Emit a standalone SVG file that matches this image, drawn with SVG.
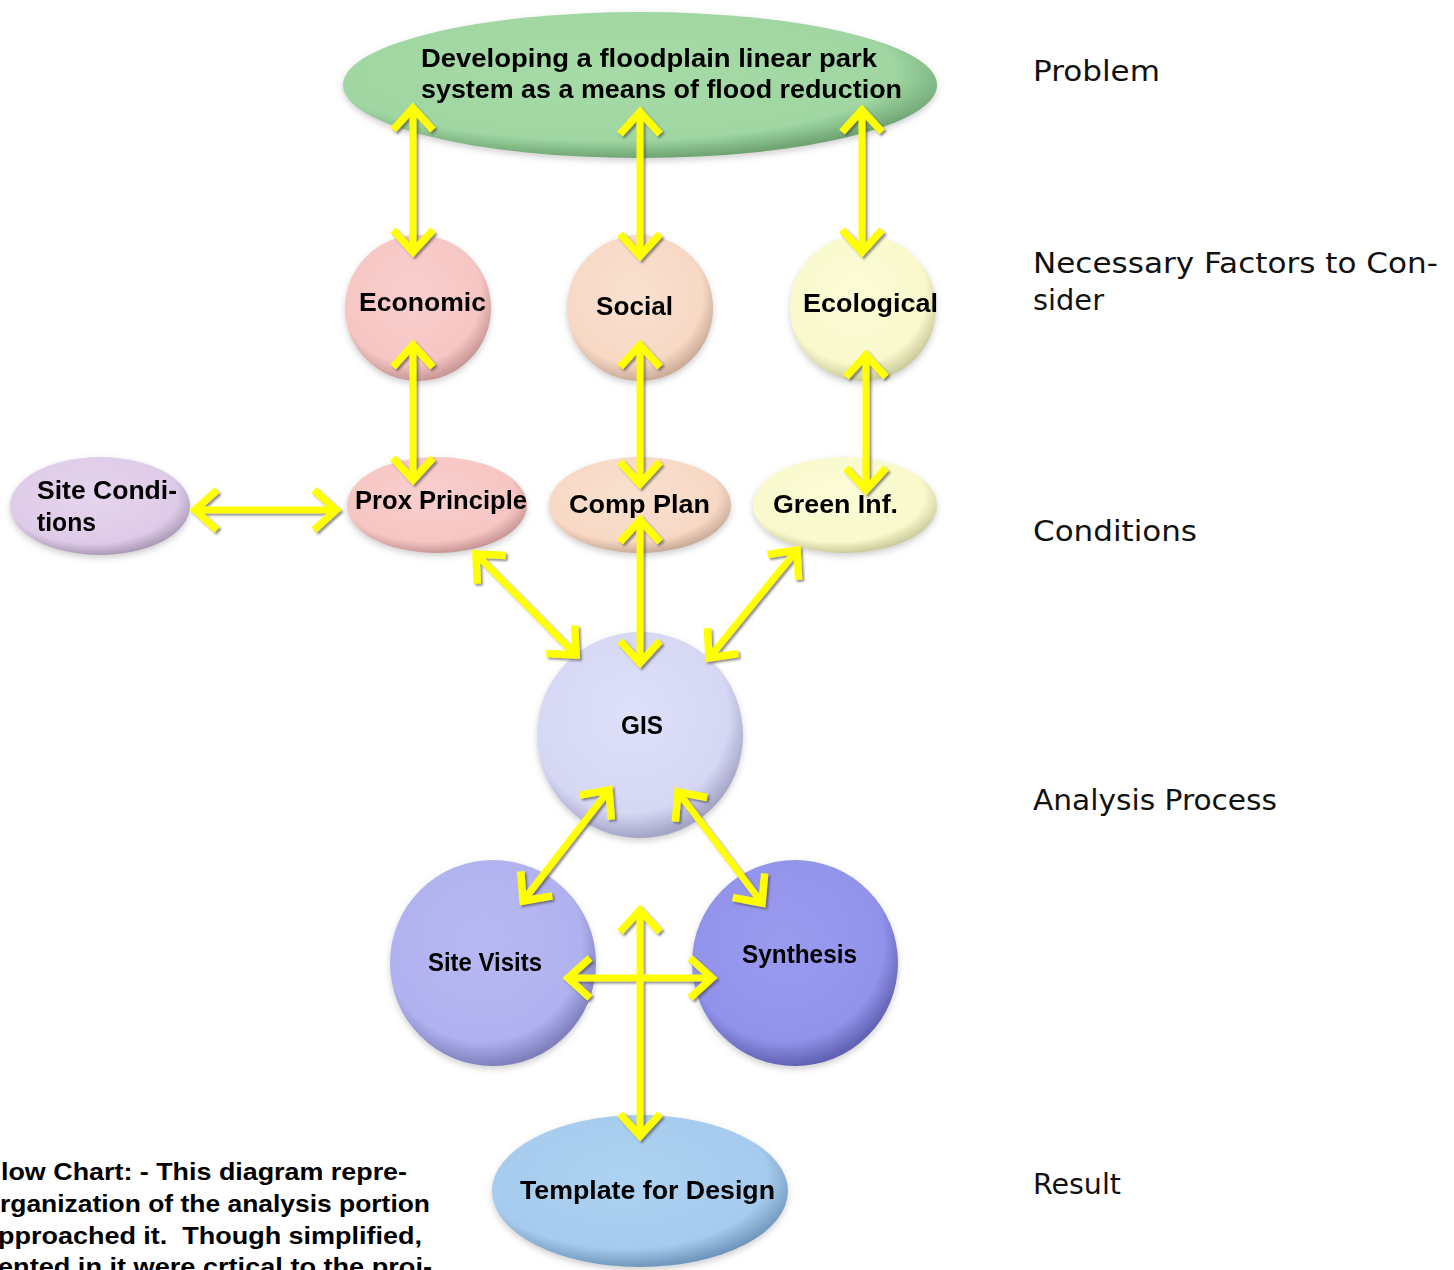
<svg xmlns="http://www.w3.org/2000/svg" width="1454" height="1270" viewBox="0 0 1454 1270">
<style>
.lbl{font-family:"Liberation Sans",Arial,sans-serif;font-weight:bold;font-size:25px;fill:#000}
.side{font-family:"DejaVu Sans","Liberation Sans",sans-serif;font-size:29px;fill:#111}
.cap{font-family:"Liberation Sans",Arial,sans-serif;font-weight:bold;font-size:24px;fill:#000;white-space:pre}
.arr{fill:none;stroke:#ffff00;stroke-width:7}
</style>
<defs>
<filter id="ash" x="-20%" y="-20%" width="140%" height="140%">
<feDropShadow dx="2" dy="2" stdDeviation="1.2" flood-color="#444" flood-opacity="0.6"/>
</filter>
<filter id="nsh" x="-10%" y="-10%" width="120%" height="125%">
<feDropShadow dx="0" dy="3" stdDeviation="3" flood-color="#888" flood-opacity="0.4"/>
</filter>
<marker id="hd" markerUnits="userSpaceOnUse" viewBox="-30 -30 40 60" markerWidth="40" markerHeight="60" refX="0" refY="0" orient="auto-start-reverse" overflow="visible">
<path d="M-22,-20 L0,0 L-22,20" fill="none" stroke="#ffff00" stroke-width="7.5" stroke-linejoin="miter"/>
</marker>
<radialGradient id="gGreen" cx="45%" cy="40%" r="60%"><stop offset="0" stop-color="#a6dba8"/><stop offset="0.8" stop-color="#a0d6a2"/><stop offset="1" stop-color="#6fa572"/></radialGradient>
<radialGradient id="gPink" cx="45%" cy="40%" r="60%"><stop offset="0" stop-color="#f9cfcd"/><stop offset="0.8" stop-color="#f6c6c4"/><stop offset="1" stop-color="#c99896"/></radialGradient>
<radialGradient id="gPeach" cx="45%" cy="40%" r="60%"><stop offset="0" stop-color="#fae1d0"/><stop offset="0.8" stop-color="#f7d8c4"/><stop offset="1" stop-color="#cbac98"/></radialGradient>
<radialGradient id="gYel" cx="45%" cy="40%" r="60%"><stop offset="0" stop-color="#fcfcd8"/><stop offset="0.8" stop-color="#f9f9cc"/><stop offset="1" stop-color="#cccc9e"/></radialGradient>
<radialGradient id="gLav" cx="45%" cy="40%" r="60%"><stop offset="0" stop-color="#e6d5ee"/><stop offset="0.8" stop-color="#decbe8"/><stop offset="1" stop-color="#ad9bb8"/></radialGradient>
<radialGradient id="gGis" cx="45%" cy="40%" r="60%"><stop offset="0" stop-color="#dedff8"/><stop offset="0.8" stop-color="#d6d7f4"/><stop offset="1" stop-color="#a4a5c6"/></radialGradient>
<radialGradient id="gSv" cx="45%" cy="40%" r="60%"><stop offset="0" stop-color="#b8b9f3"/><stop offset="0.8" stop-color="#b0b1ef"/><stop offset="1" stop-color="#7e7fbd"/></radialGradient>
<radialGradient id="gSyn" cx="45%" cy="40%" r="60%"><stop offset="0" stop-color="#9a9bef"/><stop offset="0.8" stop-color="#9192ea"/><stop offset="1" stop-color="#6162b4"/></radialGradient>
<radialGradient id="gBlue" cx="45%" cy="40%" r="60%"><stop offset="0" stop-color="#aed2f1"/><stop offset="0.8" stop-color="#a6cbee"/><stop offset="1" stop-color="#7097bd"/></radialGradient>
</defs>
<rect width="1454" height="1270" fill="#ffffff"/>

<g id="node-problem" filter="url(#nsh)"><ellipse cx="640" cy="85" rx="297" ry="73" fill="url(#gGreen)"/>
<text class="lbl" x="421" y="67" font-size="26" textLength="456" lengthAdjust="spacingAndGlyphs">Developing a floodplain linear park</text>
<text class="lbl" x="421" y="98" font-size="26" textLength="481" lengthAdjust="spacingAndGlyphs">system as a means of flood reduction</text></g>

<g id="node-economic" filter="url(#nsh)"><circle cx="418" cy="308" r="73" fill="url(#gPink)"/>
<text class="lbl" x="359" y="311" textLength="127" lengthAdjust="spacingAndGlyphs">Economic</text></g>
<g id="node-social" filter="url(#nsh)"><circle cx="640" cy="308" r="73" fill="url(#gPeach)"/>
<text class="lbl" x="596" y="315" textLength="77" lengthAdjust="spacingAndGlyphs">Social</text></g>
<g id="node-ecological" filter="url(#nsh)"><circle cx="863" cy="308" r="73" fill="url(#gYel)"/>
<text class="lbl" x="803" y="312" textLength="135" lengthAdjust="spacingAndGlyphs">Ecological</text></g>

<g id="node-site-conditions" filter="url(#nsh)"><ellipse cx="100" cy="506" rx="90" ry="49" fill="url(#gLav)"/>
<text class="lbl" x="37" y="499" textLength="140" lengthAdjust="spacingAndGlyphs">Site Condi-</text>
<text class="lbl" x="37" y="531" textLength="59" lengthAdjust="spacingAndGlyphs">tions</text></g>
<g id="node-prox" filter="url(#nsh)"><ellipse cx="437" cy="505" rx="90" ry="48" fill="url(#gPink)"/>
<text class="lbl" x="355" y="509" textLength="172" lengthAdjust="spacingAndGlyphs">Prox Principle</text></g>
<g id="node-comp" filter="url(#nsh)"><ellipse cx="640" cy="505" rx="91" ry="48" fill="url(#gPeach)"/>
<text class="lbl" x="569" y="513" textLength="141" lengthAdjust="spacingAndGlyphs">Comp Plan</text></g>
<g id="node-green" filter="url(#nsh)"><ellipse cx="845" cy="505" rx="92" ry="48" fill="url(#gYel)"/>
<text class="lbl" x="773" y="513" textLength="125" lengthAdjust="spacingAndGlyphs">Green Inf.</text></g>

<g id="node-gis" filter="url(#nsh)"><circle cx="640" cy="735" r="103" fill="url(#gGis)"/>
<text class="lbl" x="621" y="734" textLength="42" lengthAdjust="spacingAndGlyphs">GIS</text></g>
<g id="node-site-visits" filter="url(#nsh)"><circle cx="493" cy="963" r="103" fill="url(#gSv)"/>
<text class="lbl" x="428" y="971" textLength="114" lengthAdjust="spacingAndGlyphs">Site Visits</text></g>
<g id="node-synthesis" filter="url(#nsh)"><circle cx="795" cy="963" r="103" fill="url(#gSyn)"/>
<text class="lbl" x="742" y="963" textLength="115" lengthAdjust="spacingAndGlyphs">Synthesis</text></g>
<g id="node-template" filter="url(#nsh)"><ellipse cx="640" cy="1191" rx="148" ry="76" fill="url(#gBlue)"/>
<text class="lbl" x="520" y="1199" textLength="255" lengthAdjust="spacingAndGlyphs">Template for Design</text></g>

<g id="connectors" filter="url(#ash)">
<path class="arr" d="M413,108 V252" marker-start="url(#hd)" marker-end="url(#hd)"/>
<path class="arr" d="M640,112 V256" marker-start="url(#hd)" marker-end="url(#hd)"/>
<path class="arr" d="M862,110 V252" marker-start="url(#hd)" marker-end="url(#hd)"/>
<path class="arr" d="M413,345 V480" marker-start="url(#hd)" marker-end="url(#hd)"/>
<path class="arr" d="M640,345 V484" marker-start="url(#hd)" marker-end="url(#hd)"/>
<path class="arr" d="M866,355 V490" marker-start="url(#hd)" marker-end="url(#hd)"/>
<path class="arr" d="M195,510 H336" marker-start="url(#hd)" marker-end="url(#hd)"/>
<path class="arr" d="M476,554 L576,655" marker-start="url(#hd)" marker-end="url(#hd)"/>
<path class="arr" d="M640,520 V663" marker-start="url(#hd)" marker-end="url(#hd)"/>
<path class="arr" d="M797,550 L709,658" marker-start="url(#hd)" marker-end="url(#hd)"/>
<path class="arr" d="M609,790 L523,901" marker-start="url(#hd)" marker-end="url(#hd)"/>
<path class="arr" d="M678,792 L762,903" marker-start="url(#hd)" marker-end="url(#hd)"/>
<path class="arr" d="M640,910 V1136" marker-start="url(#hd)" marker-end="url(#hd)"/>
<path class="arr" d="M568,978 H712" marker-start="url(#hd)" marker-end="url(#hd)"/>
</g>

<g id="side-labels">
<text class="side" x="1033" y="81" textLength="127" lengthAdjust="spacingAndGlyphs">Problem</text>
<text class="side" x="1033" y="273" textLength="405" lengthAdjust="spacingAndGlyphs">Necessary Factors to Con-</text>
<text class="side" x="1033" y="310" textLength="71" lengthAdjust="spacingAndGlyphs">sider</text>
<text class="side" x="1033" y="541" textLength="164" lengthAdjust="spacingAndGlyphs">Conditions</text>
<text class="side" x="1033" y="810" textLength="244" lengthAdjust="spacingAndGlyphs">Analysis Process</text>
<text class="side" x="1033" y="1194" textLength="88" lengthAdjust="spacingAndGlyphs">Result</text>
</g>

<g id="caption">
<text class="cap" x="1" y="1180" textLength="406" lengthAdjust="spacingAndGlyphs">low Chart: - This diagram repre-</text>
<text class="cap" x="0" y="1212" textLength="430" lengthAdjust="spacingAndGlyphs">rganization of the analysis portion</text>
<text class="cap" x="-2" y="1244" textLength="424" lengthAdjust="spacingAndGlyphs">pproached it.  Though simplified,</text>
<text class="cap" x="-2" y="1275" textLength="434" lengthAdjust="spacingAndGlyphs">ented in it were crtical to the proj-</text>
</g>
</svg>
